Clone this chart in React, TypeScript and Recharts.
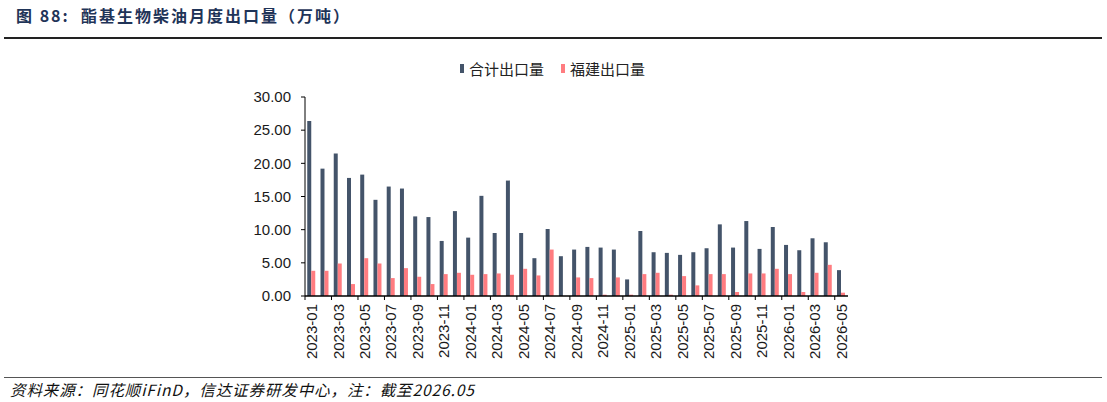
import { BarChart, Bar, XAxis, YAxis } from "recharts";

// 月份（2023-01 ~ 2026-05）
const months = [
  "2023-01", "2023-02", "2023-03", "2023-04", "2023-05", "2023-06",
  "2023-07", "2023-08", "2023-09", "2023-10", "2023-11", "2023-12",
  "2024-01", "2024-02", "2024-03", "2024-04", "2024-05", "2024-06",
  "2024-07", "2024-08", "2024-09", "2024-10", "2024-11", "2024-12",
  "2025-01", "2025-02", "2025-03", "2025-04", "2025-05", "2025-06",
  "2025-07", "2025-08", "2025-09", "2025-10", "2025-11", "2025-12",
  "2026-01", "2026-02", "2026-03", "2026-04", "2026-05",
];

// 合计出口量（万吨）
const totalExport = [
  26.4, 19.2, 21.5, 17.8, 18.3, 14.5, 16.5, 16.2, 12.0, 11.9, 8.3, 12.8,
  8.8, 15.1, 9.5, 17.4, 9.5, 5.7, 10.1, 6.0, 7.0, 7.4, 7.3, 7.0,
  2.5, 9.8, 6.6, 6.5, 6.2, 6.6, 7.2, 10.8, 7.3, 11.3, 7.1, 10.4,
  7.7, 6.9, 8.7, 8.1, 3.9,
];

// 福建出口量（万吨）
const fujianExport = [
  3.8, 3.8, 4.9, 1.8, 5.7, 4.9, 2.7, 4.2, 2.9, 1.8, 3.3, 3.5,
  3.2, 3.3, 3.4, 3.2, 4.1, 3.1, 7.0, 0, 2.8, 2.7, 0.2, 2.8,
  0.2, 3.3, 3.5, 0.2, 3.0, 1.6, 3.3, 3.3, 0.6, 3.4, 3.4, 4.1,
  3.3, 0.6, 3.5, 4.7, 0.5,
];

const yTicks = [0, 5, 10, 15, 20, 25, 30];

const chartData = months.map((m, i) => ({
  month: m,
  total: totalExport[i],
  fujian: fujianExport[i],
}));

const NAVY = "#44546A";
const PINK = "#FF7C80";
const FONT = "'Liberation Sans', Arial, 'Noto Sans CJK SC', sans-serif";
const CJK = "'Noto Sans CJK SC', 'Liberation Sans', sans-serif";

const CHART_W = 870;
const CHART_H = 380;
const MARGIN = { top: 97, right: 22, left: 0, bottom: 4 };
const Y_W = 305;
const X_H = 80;
const PLOT_W = CHART_W - MARGIN.left - MARGIN.right - Y_W;
const HALF_BAND = PLOT_W / months.length / 2;

const MonthTick = (props: any) => {
  const { x, y, payload, index } = props;
  if (index % 2 !== 0) return null;
  const tx = x - HALF_BAND;
  const ty = y + 8;
  return (
    <g>
      <line x1={tx} y1={y} x2={tx} y2={y + 4} stroke="#000" strokeWidth={1} />
      <text
        x={x}
        y={ty}
        transform={`rotate(-90, ${x}, ${ty})`}
        textAnchor="end"
        dy="0.36em"
        fontSize={15}
        fontFamily={FONT}
        fill="#1a1a1a"
      >
        {payload.value}
      </text>
    </g>
  );
};

const legendItems = [
  { label: "合计出口量", color: NAVY },
  { label: "福建出口量", color: PINK },
];

export default function App() {
  return (
    <div
      style={{
        position: "absolute",
        left: 0,
        top: 0,
        width: 1107,
        height: 402,
        background: "#fff",
        fontFamily: FONT,
        overflow: "hidden",
      }}
    >
      <div
        style={{
          position: "absolute",
          left: 16,
          top: 3,
          fontSize: 16,
          fontWeight: 700,
          letterSpacing: 2,
          color: "#1F3458",
          fontFamily: CJK,
          whiteSpace: "pre",
        }}
      >
        {"图 88:  酯基生物柴油月度出口量（万吨）"}
      </div>
      <div style={{ position: "absolute", left: 4, top: 37, width: 1098, height: 1.5, background: "#222" }} />

      {/* legend */}
      <div
        style={{
          position: "absolute",
          left: 460,
          top: 58,
          display: "flex",
          gap: 17,
          fontFamily: CJK,
          fontSize: 15,
          color: "#222",
        }}
      >
        {legendItems.map((it) => (
          <div key={it.label} style={{ display: "flex", alignItems: "center", gap: 5 }}>
            <span style={{ display: "inline-block", width: 4, height: 9, background: it.color }} />
            <span>{it.label}</span>
          </div>
        ))}
      </div>

      <div style={{ position: "absolute", left: 0, top: 0 }}>
        <BarChart
          width={CHART_W}
          height={CHART_H}
          data={chartData}
          margin={MARGIN}
          barCategoryGap="17%"
          barGap={0}
        >
          <XAxis
            dataKey="month"
            interval={0}
            tick={<MonthTick />}
            tickLine={false}
            tickSize={0}
            tickMargin={0}
            height={X_H}
            axisLine={{ stroke: "#000", strokeWidth: 1.5 }}
          />
          <YAxis
            width={Y_W}
            domain={[0, 30]}
            ticks={yTicks}
            interval={0}
            tickFormatter={(v: number) => v.toFixed(2)}
            tick={{ fontSize: 15, fill: "#1a1a1a", fontFamily: FONT }}
            tickSize={4}
            tickMargin={10}
            tickLine={{ stroke: "#000" }}
            axisLine={{ stroke: "#000", strokeWidth: 1 }}
          />
          <Bar dataKey="total" name="合计出口量" fill={NAVY} isAnimationActive={false} />
          <Bar dataKey="fujian" name="福建出口量" fill={PINK} isAnimationActive={false} />
        </BarChart>
      </div>

      <div style={{ position: "absolute", left: 4, top: 377, width: 1098, height: 1, background: "#555" }} />
      <div
        style={{
          position: "absolute",
          left: 10,
          top: 378,
          fontSize: 15.5,
          fontStyle: "italic",
          letterSpacing: 0.9,
          color: "#111",
          fontFamily: CJK,
        }}
      >
        资料来源：同花顺iFinD，信达证券研发中心，注：截至2026.05
      </div>
    </div>
  );
}
